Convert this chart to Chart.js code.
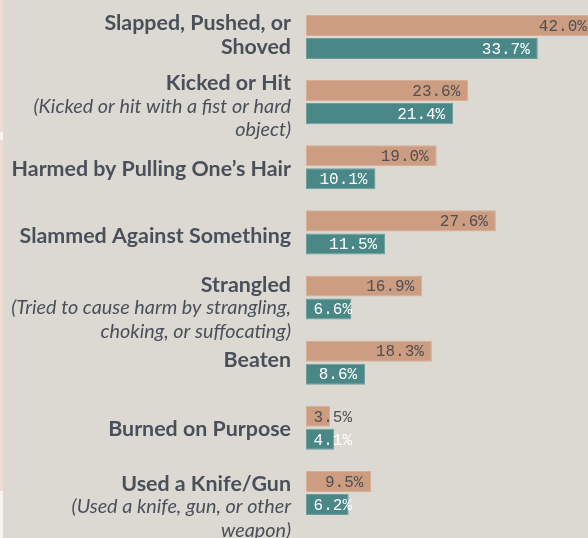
<!DOCTYPE html>
<html>
<head>
<meta charset="utf-8">
<script src="https://cdn.jsdelivr.net/npm/chart.js@4/dist/chart.umd.min.js"></script>
<style>
  html, body { margin: 0; padding: 0; }
  body { width: 588px; height: 538px; background: #dcd9d3; position: relative; overflow: hidden; }
  .strip { position: absolute; left: 0; width: 3px; }
  #wrap { position: absolute; left: 0; top: 0; width: 588px; height: 538px; }
</style>
</head>
<body>
<div class="strip" style="top:0;height:132px;background:#ecdbd0"></div>
<div class="strip" style="top:132px;height:8px;background:#f7f4f1"></div>
<div class="strip" style="top:140px;height:351px;background:#ecdbd0"></div>
<div class="strip" style="top:491px;height:47px;background:#f7f4f1"></div>
<div id="wrap"><canvas id="c" width="588" height="538"></canvas></div>
<script>
const categories = [
  "Slapped, Pushed, or\nShoved",
  "Kicked or Hit",
  "Harmed by Pulling One\u2019s Hair",
  "Slammed Against Something",
  "Strangled",
  "Beaten",
  "Burned on Purpose",
  "Used a Knife/Gun"
];
const subtitles = [
  "",
  "(Kicked or hit with a fist or hard\nobject)",
  "",
  "",
  "(Tried to cause harm by strangling,\nchoking, or suffocating)",
  "",
  "",
  "(Used a knife, gun, or other\nweapon)"
];
const seriesA = [42.0, 23.6, 19.0, 27.6, 16.9, 18.3, 3.5, 9.5];
const seriesB = [33.7, 21.4, 10.1, 11.5, 6.6, 8.6, 4.1, 6.2];

const labelDy = [-2, 4.5, 2, 4, 10.5, -3, 1, 14];

const catLabelPlugin = {
  id: 'catLabels',
  afterDraw(chart) {
    const ctx = chart.ctx;
    const y = chart.scales.y;
    const right = chart.chartArea.left - 15;
    const lh = 23.3;
    ctx.save();
    ctx.textAlign = 'right';
    ctx.textBaseline = 'middle';
    ctx.fillStyle = '#4a505a';
    categories.forEach((cat, i) => {
      const lines = [];
      cat.split('\n').forEach(t => lines.push({t, f: 'bold 21.4px Lato'}));
      if (subtitles[i]) subtitles[i].split('\n').forEach(t => lines.push({t, f: 'italic 19.8px Lato'}));
      const cy = y.getPixelForValue(i) + labelDy[i];
      const top = cy - (lines.length - 1) * lh / 2;
      lines.forEach((ln, k) => {
        ctx.font = ln.f;
        ctx.fillText(ln.t, right, top + k * lh);
      });
    });
    ctx.restore();
  }
};

const valueLabelPlugin = {
  id: 'valueLabels',
  afterDatasetsDraw(chart) {
    const ctx = chart.ctx;
    const left = chart.chartArea.left;
    ctx.save();
    ctx.font = '16px "Liberation Mono"';
    ctx.textAlign = 'right';
    ctx.textBaseline = 'middle';
    chart.data.datasets.forEach((ds, di) => {
      const meta = chart.getDatasetMeta(di);
      meta.data.forEach((bar, i) => {
        const txt = ds.data[i].toFixed(1) + '%';
        const x = Math.max(bar.x - 8, left + 46);
        ctx.fillStyle = di === 0 ? '#4f4f53' : '#ffffff';
        ctx.fillText(txt, x, bar.y + 1);
      });
    });
    ctx.restore();
  }
};

new Chart(document.getElementById('c'), {
  type: 'bar',
  data: {
    labels: categories,
    datasets: [
      { data: seriesA, backgroundColor: '#cc9d80', borderColor: '#d6af96', borderWidth: 1, borderSkipped: false },
      { data: seriesB, backgroundColor: '#4a8787', borderColor: '#6c9e9e', borderWidth: 1, borderSkipped: false }
    ]
  },
  options: {
    indexAxis: 'y',
    responsive: false,
    animation: false,
    devicePixelRatio: 1,
    layout: { padding: { left: 306, right: 0, top: 4.4, bottom: 12.5 } },
    categoryPercentage: 0.707,
    barPercentage: 0.913,
    scales: {
      x: { display: false, min: 0, max: 41 },
      y: { display: false }
    },
    plugins: {
      legend: { display: false },
      tooltip: { enabled: false }
    }
  },
  plugins: [catLabelPlugin, valueLabelPlugin]
});
</script>
</body>
</html>
